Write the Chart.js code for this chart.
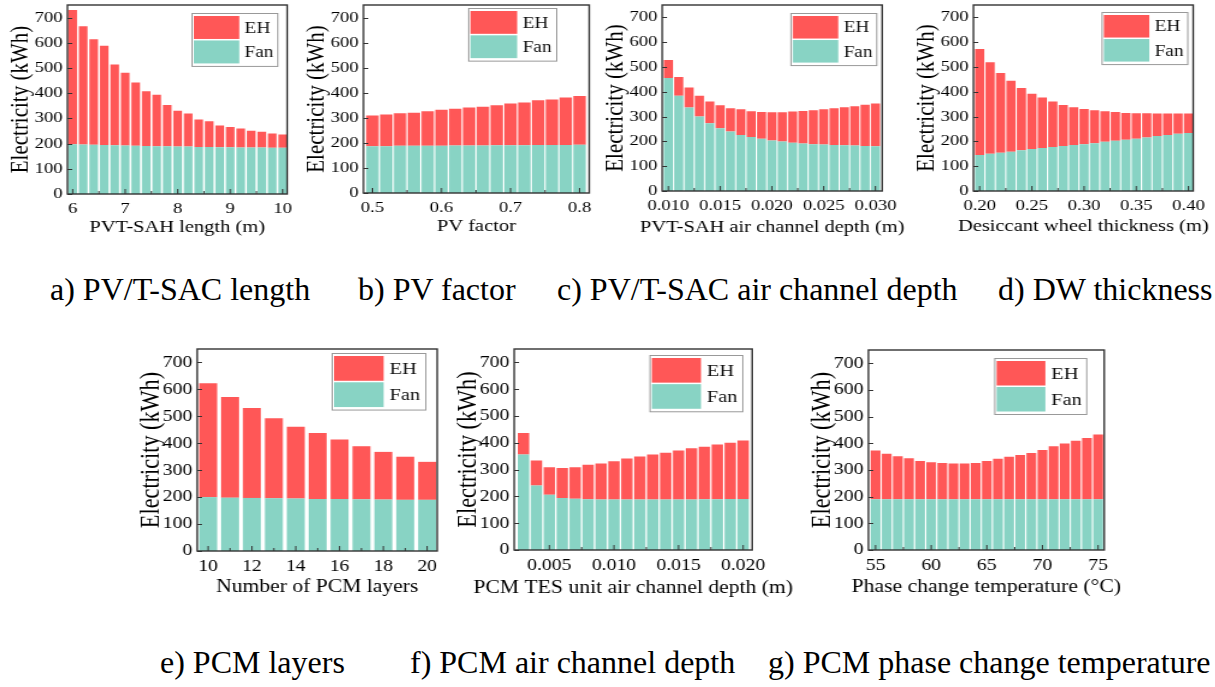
<!DOCTYPE html>
<html>
<head>
<meta charset="utf-8">
<script src="https://cdn.jsdelivr.net/npm/chart.js@4.4.0/dist/chart.umd.min.js"></script>
<style>
  html, body { margin: 0; padding: 0; background: #fff; width: 1215px; height: 687px; overflow: hidden; }
  .panel { position: absolute; transform-origin: 0 0; }
  .caption { position: absolute; font-family: "Liberation Serif", "Times New Roman", serif; font-size: 32px; line-height: 32px; color: #000; white-space: nowrap; }
</style>
</head>
<body>
<script>
// a) PVT-SAH length
const aX = [6.0, 6.2, 6.4, 6.6, 6.8, 7.0, 7.2, 7.4, 7.6, 7.8, 8.0, 8.2, 8.4, 8.6, 8.8, 9.0, 9.2, 9.4, 9.6, 9.8, 10.0];
const aFan = [197, 196, 195, 194, 193, 192, 191, 190, 189, 189, 188, 188, 187, 187, 186, 186, 185, 185, 185, 184, 184];
const aEH = [533, 470, 419, 394, 321, 289, 251, 218, 205, 164, 142, 131, 109, 102, 86, 80, 75, 66, 62, 56, 52];
const aTicks = ['6', '7', '8', '9', '10'];

// b) PV factor
const bX = [0.50, 0.52, 0.54, 0.56, 0.58, 0.60, 0.62, 0.64, 0.66, 0.68, 0.70, 0.72, 0.74, 0.76, 0.78, 0.80];
const bFan = [187, 187, 188, 188, 188, 188, 189, 189, 189, 190, 190, 190, 191, 191, 191, 192];
const bEH = [122, 126, 130, 132, 138, 144, 147, 152, 155, 160, 167, 171, 179, 182, 190, 195];
const bTicks = ['0.5', '0.6', '0.7', '0.8'];

// c) PVT-SAH air channel depth
const cX = [0.010, 0.011, 0.012, 0.013, 0.014, 0.015, 0.016, 0.017, 0.018, 0.019, 0.020, 0.021, 0.022, 0.023, 0.024, 0.025, 0.026, 0.027, 0.028, 0.029, 0.030];
const cFan = [456, 384, 337, 300, 273, 253, 240, 226, 218, 211, 204, 200, 195, 192, 189, 187, 185, 184, 183, 181, 180];
const cEH = [72, 76, 80, 84, 88, 93, 94, 104, 104, 108, 114, 118, 126, 131, 137, 143, 149, 154, 159, 167, 173];
const cTicks = ['0.010', '0.015', '0.020', '0.025', '0.030'];

// d) desiccant wheel thickness
const dX = [0.20, 0.21, 0.22, 0.23, 0.24, 0.25, 0.26, 0.27, 0.28, 0.29, 0.30, 0.31, 0.32, 0.33, 0.34, 0.35, 0.36, 0.37, 0.38, 0.39, 0.40];
const dFan = [145, 150, 154, 158, 164, 169, 173, 177, 181, 185, 189, 193, 199, 203, 207, 211, 216, 222, 226, 231, 234];
const dEH = [428, 369, 322, 287, 251, 223, 204, 184, 166, 153, 142, 133, 123, 116, 108, 103, 98, 90, 86, 81, 78];
const dTicks = ['0.20', '0.25', '0.30', '0.35', '0.40'];

// e) number of PCM layers
const eX = [10, 11, 12, 13, 14, 15, 16, 17, 18, 19, 20];
const eFan = [200, 198, 197, 196, 195, 193, 193, 192, 191, 190, 190];
const eEH = [423, 374, 334, 297, 266, 245, 221, 197, 177, 160, 141];
const eTicks = ['10', '12', '14', '16', '18', '20'];

// f) PCM TES unit air channel depth
const fX = [0.003, 0.004, 0.005, 0.006, 0.007, 0.008, 0.009, 0.010, 0.011, 0.012, 0.013, 0.014, 0.015, 0.016, 0.017, 0.018, 0.019, 0.020];
const fFan = [356, 241, 206, 194, 191, 189, 188, 188, 188, 188, 188, 188, 188, 188, 189, 189, 190, 190];
const fEH = [81, 93, 103, 112, 118, 129, 135, 143, 153, 161, 168, 175, 183, 192, 196, 205, 210, 219];
const fTicks = ['0.005', '0.010', '0.015', '0.020'];

// g) phase change temperature
const gX = [55, 56, 57, 58, 59, 60, 61, 62, 63, 64, 65, 66, 67, 68, 69, 70, 71, 72, 73, 74, 75];
const gFan = [190, 190, 190, 190, 190, 190, 190, 190, 190, 190, 190, 190, 190, 190, 190, 190, 190, 190, 190, 190, 190];
const gEH = [183, 171, 162, 154, 144, 139, 136, 134, 134, 136, 144, 152, 160, 166, 174, 185, 199, 209, 220, 230, 243];
const gTicks = ['55', '60', '65', '70', '75'];

const yTicks = [0, 100, 200, 300, 400, 500, 600, 700];
const yMax = 750;

const RED = '#ff5757';
const TEAL = '#88d3c4';
const FONT = '"Liberation Serif", "Times New Roman", serif';

// the source figure is stretched sideways, so each chart is drawn narrow and scaled
const S = 1.2;
const Y_W = 51;
const PAD_T = 4;
const PAD_R = 42;

// box = plot frame [left, top, right, bottom] in page pixels, k = text scale
const panels = [
  { x: aX, fan: aFan, eh: aEH, ticks: aTicks, title: 'PVT-SAH length (m)', box: [67, 5, 286, 194], titleY: 228, range: [5.9, 10.085], bar: 0.82, leg: [10, 8], k: 1 },
  { x: bX, fan: bFan, eh: bEH, ticks: bTicks, title: 'PV factor', box: [363, 5, 588, 193], titleY: 227, range: [0.487, 0.814], bar: 0.9, leg: [33, 3], k: 1 },
  { x: cX, fan: cFan, eh: cEH, ticks: cTicks, title: 'PVT-SAH air channel depth (m)', box: [662, 5, 882, 191], titleY: 228, range: [0.0094, 0.03065], bar: 0.88, leg: [6, 8], k: 1 },
  { x: dX, fan: dFan, eh: dEH, ticks: dTicks, title: 'Desiccant wheel thickness (m)', box: [973, 5, 1192, 191], titleY: 227, range: [0.194, 0.4045], bar: 0.88, leg: [6, 7], k: 1 },
  { x: eX, fan: eFan, eh: eEH, ticks: eTicks, title: 'Number of PCM layers', box: [197, 349, 437, 551], titleY: 587, range: [9.5, 20.46], bar: 0.82, leg: [12, 4], k: 1.06 },
  { x: fX, fan: fFan, eh: fEH, ticks: fTicks, title: 'PCM TES unit air channel depth (m)', box: [514, 349, 752, 550], titleY: 588, range: [0.00228, 0.0207], bar: 0.88, leg: [10, 6], k: 1.06 },
  { x: gX, fan: gFan, eh: gEH, ticks: gTicks, title: 'Phase change temperature (\u00b0C)', box: [868, 350, 1103, 550], titleY: 587, range: [54.36, 75.55], bar: 0.88, leg: [18, 8], k: 1.06 }
];

const captions = [
  { text: 'a) PV/T-SAC length', left: 50, top: 273 },
  { text: 'b) PV factor', left: 358, top: 273 },
  { text: 'c) PV/T-SAC air channel depth', left: 557, top: 273 },
  { text: 'd) DW thickness', left: 998, top: 273 },
  { text: 'e) PCM layers', left: 160, top: 646 },
  { text: 'f) PCM air channel depth', left: 410, top: 646 },
  { text: 'g) PCM phase change temperature', left: 768, top: 646 }
];

// frame + inward tick marks
const framePlugin = {
  id: 'frame',
  afterDatasetsDraw(chart) {
    const { ctx, chartArea: a, scales } = chart;
    ctx.save();
    ctx.strokeStyle = '#333';
    ctx.lineWidth = 1;
    ctx.beginPath();
    scales.y.ticks.forEach(t => {
      const py = Math.round(scales.y.getPixelForValue(t.value)) + 0.5;
      ctx.moveTo(a.left, py); ctx.lineTo(a.left + 4, py);
    });
    const xt = scales.x.ticks.map(t => t.value);
    xt.forEach((v, i) => {
      const px = scales.x.getPixelForValue(v);
      ctx.moveTo(px, a.bottom); ctx.lineTo(px, a.bottom - 5);
      if (i < xt.length - 1) {
        const pm = scales.x.getPixelForValue((v + xt[i + 1]) / 2);
        ctx.moveTo(pm, a.bottom); ctx.lineTo(pm, a.bottom - 3);
      }
    });
    ctx.stroke();
    ctx.lineWidth = 1.4;
    ctx.strokeRect(a.left, a.top, a.right - a.left, a.bottom - a.top);
    ctx.restore();
  }
};

// x title drawn here so long titles are not squeezed to the axis width
const xTitle = {
  id: 'xTitle',
  afterDraw(chart, args, opts) {
    const { ctx, chartArea: a } = chart;
    ctx.save();
    ctx.font = opts.size + 'px ' + FONT;
    ctx.fillStyle = '#000';
    ctx.textAlign = 'center';
    ctx.textBaseline = 'middle';
    ctx.fillText(opts.text, (a.left + a.right) / 2, opts.y);
    ctx.restore();
  }
};

// boxed legend inside the top-right corner
const boxLegend = {
  id: 'boxLegend',
  afterDraw(chart, args, opts) {
    const { ctx, chartArea: a } = chart;
    const w = (a.right - a.left) * 0.39;
    const h = (a.bottom - a.top) * 0.28;
    const x0 = a.right - opts.gap[0] / S - w;
    const y0 = a.top + opts.gap[1];
    ctx.save();
    ctx.fillStyle = '#fff';
    ctx.fillRect(x0, y0, w, h);
    ctx.strokeStyle = '#999';
    ctx.lineWidth = 1;
    ctx.strokeRect(x0 + 0.5, y0 + 0.5, w, h);
    const rowH = (h - 7) / 2;
    const items = chart.data.datasets.slice().reverse();
    ctx.font = opts.size + 'px ' + FONT;
    ctx.textBaseline = 'middle';
    ctx.textAlign = 'left';
    items.forEach((ds, i) => {
      const ry = y0 + 3 + i * (rowH + 1.5);
      ctx.fillStyle = ds.backgroundColor;
      ctx.fillRect(x0 + 2, ry, w * 0.53, rowH);
      ctx.fillStyle = '#111';
      ctx.fillText(ds.label, x0 + w * 0.62, ry + rowH / 2 + 1);
    });
    ctx.restore();
  }
};

function makeChart(p) {
  const [L, T, R, B] = p.box;
  const xh = p.titleY - B + 11;
  const wrap = document.createElement('div');
  wrap.className = 'panel';
  wrap.style.left = (L - S * Y_W) + 'px';
  wrap.style.top = (T - PAD_T) + 'px';
  wrap.style.width = (Y_W + (R - L) / S + PAD_R) + 'px';
  wrap.style.height = (PAD_T + (B - T) + xh) + 'px';
  wrap.style.transform = 'scaleX(' + S + ')';
  const cv = document.createElement('canvas');
  wrap.appendChild(cv);
  document.body.appendChild(wrap);

  new Chart(cv, {
    type: 'bar',
    data: {
      datasets: [
        { label: 'Fan', data: p.x.map((x, i) => ({ x: x, y: p.fan[i] })), backgroundColor: TEAL, stack: 's' },
        { label: 'EH', data: p.x.map((x, i) => ({ x: x, y: p.eh[i] })), backgroundColor: RED, stack: 's' }
      ]
    },
    options: {
      responsive: true,
      maintainAspectRatio: false,
      animation: false,
      devicePixelRatio: 1,
      layout: { padding: { left: 0, top: PAD_T, right: PAD_R, bottom: 0 } },
      datasets: { bar: { barPercentage: p.bar, categoryPercentage: 1, borderWidth: 0 } },
      plugins: {
        legend: { display: false },
        tooltip: { enabled: false },
        boxLegend: { gap: p.leg, size: 16 * p.k },
        xTitle: { text: p.title, size: 17 * p.k, y: p.titleY - (T - PAD_T) }
      },
      scales: {
        x: {
          type: 'linear',
          min: p.range[0],
          max: p.range[1],
          stacked: true,
          offset: false,
          grid: { display: false, offset: false, drawTicks: false },
          border: { display: false },
          ticks: {
            autoSkip: false,
            maxRotation: 0,
            padding: 6,
            color: '#000',
            font: { family: FONT, size: 15.5 * p.k },
            callback: (v, i) => p.ticks[i]
          },
          afterBuildTicks: s => { s.ticks = p.ticks.map(t => ({ value: parseFloat(t) })); },
          afterFit: s => { s.height = xh; s.paddingLeft = 0; s.paddingRight = 0; }
        },
        y: {
          min: 0,
          max: yMax,
          stacked: true,
          grid: { display: false, drawTicks: false },
          border: { display: false },
          ticks: {
            padding: 4,
            color: '#000',
            font: { family: FONT, size: 15.5 * p.k },
            callback: v => String(v)
          },
          afterBuildTicks: s => { s.ticks = yTicks.map(v => ({ value: v })); },
          afterFit: s => { s.width = Y_W; s.paddingTop = 0; s.paddingBottom = 0; },
          title: { display: true, text: 'Electricity (kWh)', color: '#000', font: { family: FONT, size: 21 * p.k }, padding: { top: 0, bottom: 0 } }
        }
      }
    },
    plugins: [framePlugin, xTitle, boxLegend]
  });
}

panels.forEach(makeChart);

captions.forEach(c => {
  const el = document.createElement('div');
  el.className = 'caption';
  el.textContent = c.text;
  el.style.left = c.left + 'px';
  el.style.top = c.top + 'px';
  document.body.appendChild(el);
});
</script>
</body>
</html>
